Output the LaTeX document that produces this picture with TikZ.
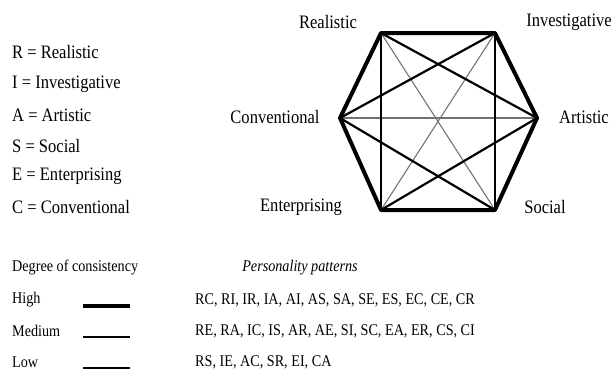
\documentclass[tikz,border=0pt]{standalone}
\usepackage{fontspec}
\setmainfont{Liberation Serif}[FakeStretch=0.87]
\usetikzlibrary{positioning,calc}

\begin{document}
\begin{tikzpicture}[x=1pt,y=-1pt,inner sep=0pt,font=\fontsize{19}{22}\selectfont]
    \tikzstyle{high}=[line width=4pt,line join=round]
    \tikzstyle{medium}=[line width=2.2pt]
    \tikzstyle{low}=[line width=1.1pt,draw=black!55]
    \tikzstyle{key}=[anchor=west]
    \tikzstyle{small}=[font=\fontsize{16.3}{19}\selectfont]

    \useasboundingbox (0,0) rectangle (615,370);

    % Draw the corners of the hexagon
    \foreach \name / \x / \y in {R/381/33, I/495/33, A/537/118, S/495/210, E/381/210, C/340/118}
        \coordinate (\name) at (\x,\y);

    % Connect opposite types
    \foreach \source / \dest in {R/S, I/E, A/C}
        \draw[low] (\source) -- (\dest);

    % Connect alternate types
    \foreach \source / \dest in {R/A, R/E, I/C, I/S, A/E, S/C}
        \draw[medium] (\source) -- (\dest);

    % Connect adjacent types
    \draw[high] (R) -- (I) -- (A) -- (S) -- (E) -- (C) -- cycle;

    % Label the corners
    \node (R-label) at (328,22) {Realistic};
    \node (I-label) at (569,22) {Investigative};
    \node (A-label) at (584,117) {Artistic};
    \node (C-label) at (275,117) {Conventional};
    \node (E-label) at (301,207) {Enterprising};
    \node (S-label) at (545,207) {Social};

    % Key to the letters
    \foreach \letter / \type / \y in {R/Realistic/52, I/Investigative/84, A/Artistic/115, S/Social/146, E/Enterprising/176, C/Conventional/207}
        \node[key] (key-\letter) at (12,\y) {\letter{} = \type};

    % Degree of consistency
    \node[key,small] (degree) at (12,268) {Degree of consistency};
    \node[small] (patterns) at (300,268) {\itshape Personality patterns};
    \foreach \level / \width / \y / \pairs in {High/high/300/{RC, RI, IR, IA, AI, AS, SA, SE, ES, EC, CE, CR},
                                             Medium/medium/331/{RE, RA, IC, IS, AR, AE, SI, SC, EA, ER, CS, CI},
                                             Low/low/362/{RS, IE, AC, SR, EI, CA}} {
        \node[key,small] (\level) at (12,\y) {\level};
        \coordinate (\level-from) at (83,\y+6);
        \coordinate (\level-to) at (130,\y+6);
        \draw[\width,draw=black] (\level-from) -- (\level-to);
        \node[key,small] (\level-pairs) at (195,\y) {\pairs};
    }
\end{tikzpicture}
\end{document}
